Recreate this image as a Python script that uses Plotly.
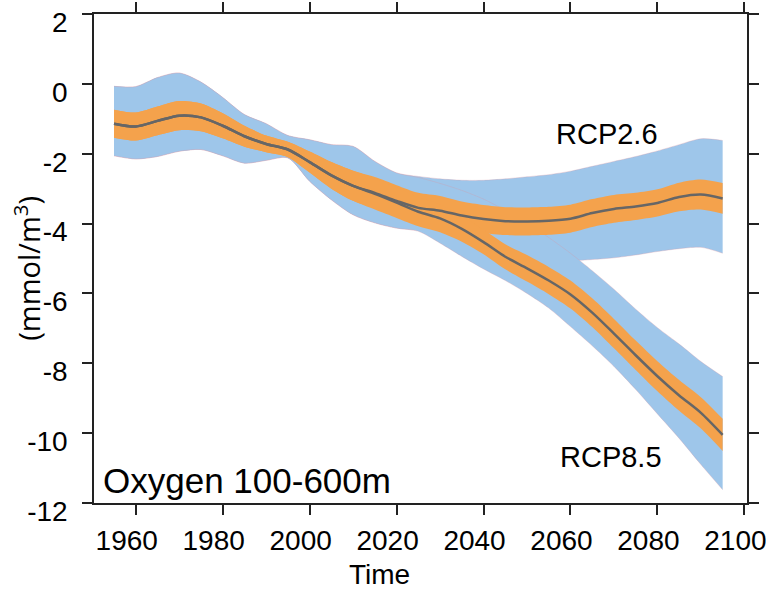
import plotly.graph_objects as go

# ---------------- data ----------------
years_hist = [1955, 1960, 1965, 1970, 1975, 1980, 1985, 1990, 1995, 2000, 2005]
hist_mean = [-1.14, -1.22, -1.06, -0.91, -0.96, -1.20, -1.50, -1.72, -1.88, -2.24, -2.62]
hist_sd = [0.40, 0.40, 0.41, 0.42, 0.40, 0.36, 0.30, 0.24, 0.22, 0.30, 0.38]
hist_hi = [-0.07, -0.08, 0.18, 0.31, 0.05, -0.39, -0.88, -1.14, -1.48, -1.60, -1.74]
hist_lo = [-2.06, -2.15, -2.08, -1.93, -1.88, -2.06, -2.27, -2.19, -2.12, -2.79, -3.32]

years_rcp = [2010, 2015, 2020, 2025, 2030, 2035, 2040, 2045, 2050,
             2055, 2060, 2065, 2070, 2075, 2080, 2085, 2090, 2095]

rcp26_mean = [-2.92, -3.12, -3.35, -3.55, -3.63, -3.77, -3.87, -3.93, -3.94,
              -3.92, -3.86, -3.70, -3.58, -3.51, -3.41, -3.24, -3.17, -3.28]
rcp26_sd = [0.43, 0.45, 0.45, 0.43, 0.42, 0.40, 0.40, 0.40, 0.40,
            0.40, 0.40, 0.40, 0.40, 0.39, 0.39, 0.41, 0.43, 0.44]
rcp26_hi = [-1.79, -2.22, -2.55, -2.65, -2.72, -2.76, -2.76, -2.72, -2.66,
            -2.60, -2.50, -2.36, -2.22, -2.08, -1.92, -1.74, -1.57, -1.62]
rcp26_lo = [-3.75, -3.98, -4.13, -4.20, -4.35, -4.50, -4.65, -4.80, -4.92,
            -5.00, -5.06, -5.03, -4.98, -4.90, -4.80, -4.72, -4.68, -4.85]

rcp85_mean = [-2.92, -3.15, -3.40, -3.66, -3.85, -4.15, -4.53, -4.95, -5.28,
              -5.63, -6.03, -6.55, -7.15, -7.77, -8.37, -8.92, -9.42, -10.05]
rcp85_sd = [0.43, 0.45, 0.44, 0.42, 0.40, 0.37, 0.35, 0.36, 0.38,
            0.39, 0.40, 0.41, 0.42, 0.42, 0.43, 0.44, 0.45, 0.46]
rcp85_hi = [-1.79, -2.22, -2.55, -2.68, -2.85, -3.05, -3.30, -3.62, -3.98,
            -4.40, -4.85, -5.35, -5.88, -6.45, -6.98, -7.45, -7.95, -8.38]
rcp85_lo = [-3.75, -3.98, -4.13, -4.22, -4.56, -4.94, -5.30, -5.63, -6.00,
            -6.42, -6.95, -7.50, -8.09, -8.75, -9.45, -10.15, -10.90, -11.62]

x_ticks = [1960, 1980, 2000, 2020, 2040, 2060, 2080, 2100]
y_ticks = [2, 0, -2, -4, -6, -8, -10, -12]

# ---------------- styling ----------------
BLUE = "#9EC6EA"
ORANGE = "#F4A24C"
GRAY = "#666666"
EDGE = "rgba(215,150,165,0.5)"
FONT = "Liberation Sans, Arial, sans-serif"

years = years_hist + years_rcp

scen = {
    "RCP2.6": dict(mean=hist_mean + rcp26_mean, sd=hist_sd + rcp26_sd,
                   hi=hist_hi + rcp26_hi, lo=hist_lo + rcp26_lo),
    "RCP8.5": dict(mean=hist_mean + rcp85_mean, sd=hist_sd + rcp85_sd,
                   hi=hist_hi + rcp85_hi, lo=hist_lo + rcp85_lo),
}

fig = go.Figure()

def band(upper, lower, color, edge):
    fig.add_trace(go.Scatter(x=years, y=upper, mode="lines",
                             line=dict(color=edge, width=0.6, shape="spline", smoothing=0.8),
                             hoverinfo="skip", showlegend=False))
    fig.add_trace(go.Scatter(x=years, y=lower, mode="lines", fill="tonexty",
                             fillcolor=color,
                             line=dict(color=edge, width=0.6, shape="spline", smoothing=0.8),
                             hoverinfo="skip", showlegend=False))

# blue spread bands
for name in ["RCP2.6", "RCP8.5"]:
    s = scen[name]
    band(s["hi"], s["lo"], BLUE, EDGE)

# orange bands (mean +/- sd)
for name in ["RCP2.6", "RCP8.5"]:
    s = scen[name]
    up = [m + d for m, d in zip(s["mean"], s["sd"])]
    dn = [m - d for m, d in zip(s["mean"], s["sd"])]
    band(up, dn, ORANGE, "rgba(0,0,0,0)")

# mean lines
for name in ["RCP2.6", "RCP8.5"]:
    s = scen[name]
    fig.add_trace(go.Scatter(x=years, y=s["mean"], mode="lines", name=name,
                             line=dict(color=GRAY, width=2.5, shape="spline", smoothing=0.8),
                             showlegend=False))

axis_common = dict(
    showline=True, linecolor="#222222", linewidth=1.5,
    ticks="outside", ticklen=10, tickwidth=1.5, tickcolor="#222222",
    mirror="ticks", showgrid=False, zeroline=False, automargin=False,
    ticklabeloverflow="allow",
    tickfont=dict(family=FONT, size=28, color="black"),
)

fig.update_layout(
    width=766, height=589,
    margin=dict(l=94, r=19, t=14, b=86),
    paper_bgcolor="white", plot_bgcolor="white",
    showlegend=False,
    xaxis=dict(range=[1950.4, 2100.6], tickvals=x_ticks,
               ticktext=[str(v) for v in x_ticks],
               ticklabelshift=-9, ticklabelstandoff=2, **axis_common),
    yaxis=dict(range=[-12, 2], tickvals=y_ticks,
               ticktext=[str(v) for v in y_ticks],
               ticklabelshift=8, ticklabelstandoff=9, **axis_common),
)

fig.add_annotation(text="Time", xref="paper", yref="paper",
                   x=(379.5 - 94.3) / 653, y=(503 - 574) / 489,
                   xanchor="center", yanchor="middle", showarrow=False,
                   font=dict(family=FONT, size=28, color="black"))
fig.add_annotation(text="(mmol/m<sup>3</sup>)", xref="paper", yref="paper",
                   x=(27 - 94.3) / 653, y=(503 - 268) / 489, textangle=-90,
                   xanchor="center", yanchor="middle", showarrow=False,
                   font=dict(family="Open Sans, sans-serif", size=29, color="black"))
fig.add_annotation(text="Oxygen 100-600m", xref="paper", yref="paper",
                   x=(101 - 94.3) / 653, y=(503 - 480.5) / 489,
                   xanchor="left", yanchor="middle", showarrow=False,
                   font=dict(family=FONT, size=35, color="black"))
fig.add_annotation(text="RCP2.6", x=2068.4, y=-1.43,
                   xanchor="center", yanchor="middle", showarrow=False,
                   font=dict(family=FONT, size=29, color="black"))
fig.add_annotation(text="RCP8.5", x=2069.3, y=-10.68,
                   xanchor="center", yanchor="middle", showarrow=False,
                   font=dict(family=FONT, size=29, color="black"))

fig.write_html("out.html")
